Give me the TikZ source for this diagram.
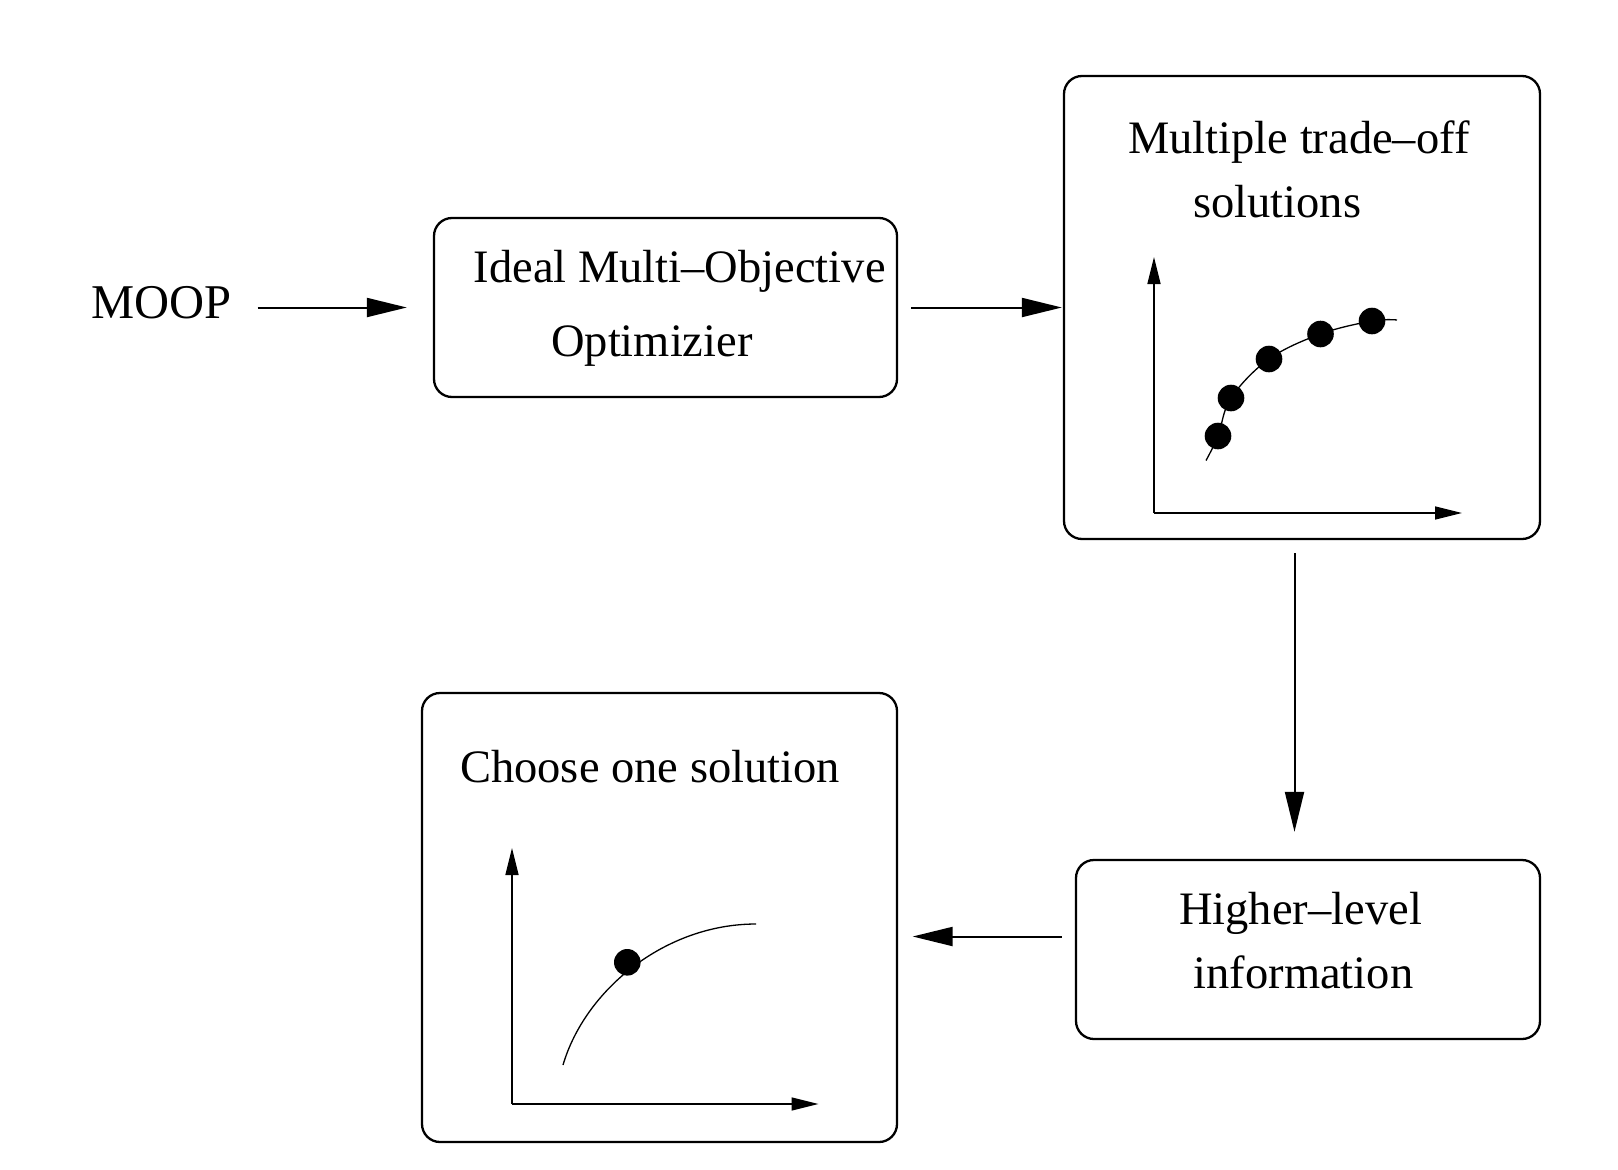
\documentclass[tikz,border=0pt]{standalone}
\usepackage{fontspec}
\setmainfont{Liberation Serif}
\usetikzlibrary{arrows.meta,calc}
\begin{document}
\begin{tikzpicture}[x=1pt,y=-1pt,
  box/.style={draw, line width=2.3pt, rounded corners=18pt, inner sep=0pt},
  lbl/.style={anchor=base west, inner sep=0pt, font=\fontsize{46.5}{55}\selectfont},
  arr/.style={line width=2pt, -{Triangle[length=40pt,width=19pt]}},
  axis/.style={line width=1.5pt, -{Triangle[length=27pt,width=13pt]}},
  front/.style={line width=1.3pt},
  dot/.style={fill=black}]
\useasboundingbox (0,0) rectangle (1618,1170);
\fill[white] (0,0) rectangle (1618,1170);

% boxes
\node[box, minimum width=463pt, minimum height=179pt] (b1) at (665.5,307.5) {};
\node[box, minimum width=476pt, minimum height=463pt] (b2) at (1302,307.5) {};
\node[box, minimum width=464pt, minimum height=179pt] (b3) at (1308,949.5) {};
\node[box, minimum width=475pt, minimum height=449pt] (b4) at (659.5,917.5) {};

% texts
\node[anchor=base west, inner sep=0pt, font=\fontsize{48.5}{58}\selectfont] (moop) at (91.5,318.5) {MOOP};
\node[lbl] (t1a) at (473.5,282) {Ideal Multi–Objective};
\node[lbl] (t1b) at (551,356) {Optimizier};
\node[lbl] (t2a) at (1128,153) {Multiple trade–off};
\node[lbl] (t2b) at (1193,217) {solutions};
\node[lbl] (t3a) at (1179,924.5) {Higher–level};
\node[lbl] (t3b) at (1193.5,988) {information};
\node[lbl] (t4a) at (460,782) {Choose one solution};

% connectors
\draw[arr, shorten <=25.5pt, shorten >=26pt] (moop.east |- b1.west) -- (b1.west);
\draw[arr, shorten <=13pt, shorten >=1pt] (b1.east) -- (b2.west);
\coordinate (a3s) at ([xshift=-7.5pt]b2.south);
\draw[arr, shorten <=13pt, shorten >=27pt] (a3s) -- (a3s |- b3.north);
\coordinate (a4s) at ([yshift=13pt]b3.west);
\draw[arr, shorten <=13pt, shorten >=14.5pt] (a4s) -- (a4s -| b4.east);

% plot in box 2
\coordinate (o2) at (1154,513);
\draw[axis] (o2) -- (1154,257);
\draw[axis] (o2) -- (1462,513);
\draw[front] plot[smooth, tension=0.6] coordinates {(1206,460.5) (1218,436) (1231,398) (1269,359) (1320.5,334) (1372,321) (1397,320)};
\foreach \p in {(1218,436),(1231,398),(1269,359),(1320.5,334),(1372,321)}
  \fill[dot] \p circle (13.3pt);

% plot in box 4
\coordinate (o4) at (512,1104);
\draw[axis] (o4) -- (512,848);
\draw[axis] (o4) -- (818.5,1104);
\draw[front] (563,1065) .. controls (585,990) and (665,924) .. (756,924);
\fill[dot] (627.3,962.3) circle (13.3pt);
\end{tikzpicture}
\end{document}
